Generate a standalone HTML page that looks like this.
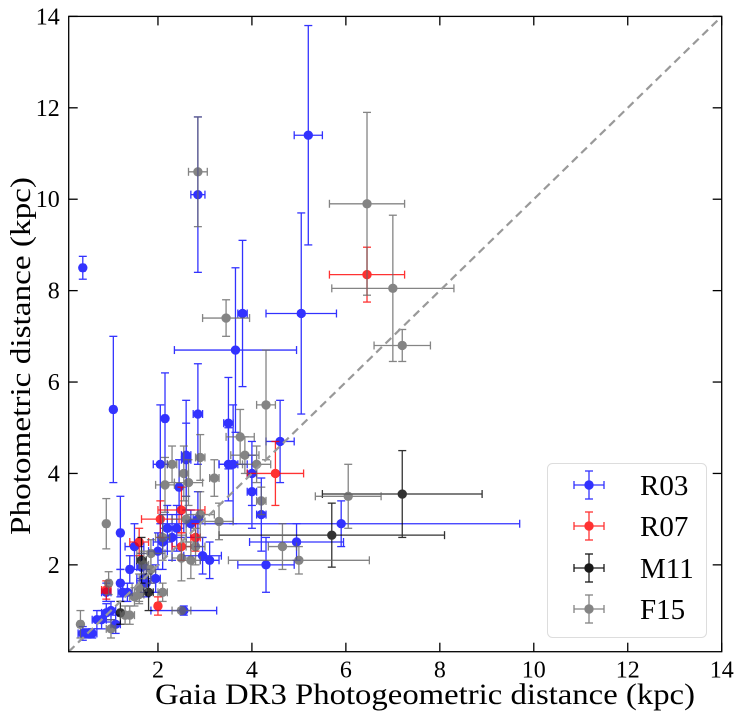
<!DOCTYPE html>
<html><head><meta charset="utf-8"><style>
html,body{margin:0;padding:0;background:#fff;}
svg{display:block;font-family:"Liberation Serif",serif;}
</style></head><body>
<svg id="chart" width="742" height="719" viewBox="0 0 742 719"></svg>
<script>
// R03: x, y, xerr, yerr
const r03X=[0.4,1.05,2.85,5.2,3.8,3.65,5.05,2.15,2.85,3.5,2.05,2.6,2.6,3.5,3.6,4.6,4.0,4.0,4.2,2.45,1.2,5.9,4.95,4.3,2.95,3.1,2.2,2.4,2.3,2.1,2.85,2.7,2.0,1.95,1.7,1.75,1.65,1.4,1.2,1.25,1.35,0.9,1.0,0.9,0.8,0.7,0.4,0.5,0.6,1.1,2.55,1.5];
const r03Y=[8.5,5.4,10.1,11.4,7.5,6.7,7.5,5.2,5.3,5.1,4.2,4.4,4.3,4.2,4.2,4.7,4.0,3.6,3.1,3.7,2.7,2.9,2.5,2.0,2.2,2.1,2.8,2.8,2.6,2.5,3.0,2.9,2.3,1.7,1.7,1.6,1.95,1.9,1.6,1.4,1.4,1.4,1.0,0.95,0.8,0.8,0.5,0.5,0.5,0.7,1.0,2.4];
const r03Xe=[0.05,0.05,0.15,0.3,0.1,1.3,0.75,0.05,0.1,0.1,0.15,0.1,0.1,0.2,0.3,0.3,0.1,0.1,0.1,0.05,0.05,3.8,1.0,0.6,0.4,0.2,0.15,0.15,0.3,0.2,0.1,0.1,0.2,0.1,0.15,0.2,0.1,0.05,0.05,0.1,0.1,0.1,0.1,0.1,0.1,0.1,0.1,0.1,0.1,0.1,0.7,0.2];
const r03Ye=[0.25,1.6,1.7,2.4,1.6,1.8,2.2,1.0,1.1,1.0,1.3,1.2,0.8,0.8,1.3,0.9,0.7,0.8,0.8,0.6,0.8,0.5,0.4,0.6,0.4,0.4,0.5,0.5,0.5,0.6,0.6,0.3,0.4,0.3,0.3,0.3,0.3,0.3,0.3,0.2,0.2,0.2,0.2,0.2,0.2,0.2,0.15,0.1,0.1,0.2,0.1,0.5];
// R07
const r07X=[6.45,4.5,2.5,2.05,2.5,2.8,2.0,0.9,1.6];
const r07Y=[8.35,4.0,3.2,3.0,2.4,2.6,1.1,1.45,2.5];
const r07Xe=[0.8,0.6,0.5,0.4,0.2,0.1,0.05,0.1,0.2];
const r07Ye=[0.6,0.7,0.5,0.4,0.3,0.3,0.2,0.2,0.3];
// M11
const m11X=[7.2,5.7,1.65,1.8,1.2];
const m11Y=[3.55,2.65,2.1,1.4,0.95];
const m11Xe=[1.7,2.4,0.1,0.1,0.05];
const m11Ye=[0.95,0.7,0.5,0.4,0.25];
// F15
const f15X=[2.85,6.45,7.0,7.2,3.45,4.3,3.75,2.9,3.2,3.85,4.1,2.55,2.15,2.3,2.65,4.2,6.05,3.3,4.65,5.0,2.7,2.5,2.9,2.6,2.8,2.1,1.85,1.85,1.5,1.6,1.6,2.1,0.9,0.95,0.35,1.0,1.3,1.4,2.5,1.7];
const f15Y=[10.6,9.9,8.05,6.8,7.4,5.5,4.8,4.35,3.9,4.4,4.2,4.0,3.75,4.2,3.8,3.4,3.5,2.95,2.4,2.1,2.1,2.15,3.1,3.0,2.4,2.6,2.25,1.9,1.3,1.35,1.5,1.4,2.9,1.6,0.7,0.6,0.9,0.9,1.0,2.0];
const f15Xe=[0.2,0.8,1.3,0.6,0.5,0.2,0.3,0.1,0.1,0.3,0.3,0.1,0.2,0.1,0.3,0.1,0.7,0.3,0.3,1.5,0.2,0.2,0.3,0.3,0.2,0.15,0.3,0.1,0.1,0.1,0.15,0.1,0.05,0.05,0.05,0.1,0.1,0.1,0.2,0.1];
const f15Ye=[1.2,2.0,1.6,0.35,0.4,1.2,0.6,0.5,0.4,0.4,0.4,0.6,0.6,0.4,0.5,0.3,0.7,0.4,0.5,0.3,0.4,0.5,0.5,0.5,0.4,0.5,0.3,0.3,0.2,0.2,0.3,0.2,0.55,0.25,0.3,0.2,0.2,0.2,0.05,0.3];
const ticks=[2,4,6,8,10,12,14];
const tickLabels=["2","4","6","8","10","12","14"];

const NS="http://www.w3.org/2000/svg";
const svg=document.getElementById('chart');
const L=68.7,R=721.7,T=16.4,B=651.7,MIN=0.1,MAX=14;
function sx(v){return L+(v-MIN)/(MAX-MIN)*(R-L);}
function sy(v){return B-(v-MIN)/(MAX-MIN)*(B-T);}
function mk(tag,attrs,parent){const e=document.createElementNS(NS,tag);for(const k in attrs)e.setAttribute(k,attrs[k]);(parent||svg).appendChild(e);return e;}

const clipDefs=mk('defs',{});
const cp=mk('clipPath',{id:'clip'},clipDefs);
mk('rect',{x:L,y:T,width:R-L,height:B-T},cp);
const plot=mk('g',{'clip-path':'url(#clip)'});



function series(name,xs,ys,xe,ye,color){
  const g=mk('g',{opacity:0.8},plot);
  
  
  for(let i=0;i<xs.length;i++){
    const pg=mk('g',{stroke:color,'stroke-width':1.3,fill:color},g);
    
    
    const cx=sx(xs[i]),cy=sy(ys[i]);
    const x0=sx(xs[i]-xe[i]),x1=sx(xs[i]+xe[i]),y0=sy(ys[i]-ye[i]),y1=sy(ys[i]+ye[i]);
    mk('line',{x1:x0,y1:cy,x2:x1,y2:cy},pg);
    mk('line',{x1:cx,y1:y0,x2:cx,y2:y1},pg);
    mk('line',{x1:x0,y1:cy-4,x2:x0,y2:cy+4},pg);
    mk('line',{x1:x1,y1:cy-4,x2:x1,y2:cy+4},pg);
    mk('line',{x1:cx-4,y1:y0,x2:cx+4,y2:y0},pg);
    mk('line',{x1:cx-4,y1:y1,x2:cx+4,y2:y1},pg);
    mk('circle',{cx:cx,cy:cy,r:4.7,stroke:'none'},pg);
  }
}
series('r03',r03X,r03Y,r03Xe,r03Ye,'#0000ff');
series('r07',r07X,r07Y,r07Xe,r07Ye,'#ff0000');
series('m11',m11X,m11Y,m11Xe,m11Ye,'#000000');
series('f15',f15X,f15Y,f15Xe,f15Ye,'#666666');

const diag=mk('line',{x1:sx(MIN),y1:sy(MIN),x2:sx(MAX),y2:sy(MAX),stroke:'#999',  'stroke-width':2.2,'stroke-dasharray':'8,5'},plot);



const frame=mk('rect',{x:L,y:T,width:R-L,height:B-T,fill:'none',stroke:'#000','stroke-width':1.3});



ticks.forEach((t,i)=>{
  const x=sx(t),y=sy(t);
  mk('line',{x1:x,y1:B,x2:x,y2:B-9,stroke:'#000','stroke-width':1.3});
  mk('line',{x1:x,y1:T,x2:x,y2:T+9,stroke:'#000','stroke-width':1.3});
  mk('line',{x1:L,y1:y,x2:L+9,y2:y,stroke:'#000','stroke-width':1.3});
  mk('line',{x1:R,y1:y,x2:R-9,y2:y,stroke:'#000','stroke-width':1.3});
  const xl=mk('text',{x:x,y:B+26,'text-anchor':'middle','font-size':24});
  xl.textContent=tickLabels[i];
  
  
  const yl=mk('text',{x:L-9,y:y+8,'text-anchor':'end','font-size':24});
  yl.textContent=tickLabels[i];
  
  
});
</script>
<svg style="position:absolute;left:0;top:0" width="742" height="719">
<text x="155" y="704" textLength="540" lengthAdjust="spacingAndGlyphs" font-size="30" font-family="Liberation Serif, serif">Gaia DR3 Photogeometric distance (kpc)</text>
<text transform="translate(30,535) rotate(-90)" textLength="358" lengthAdjust="spacingAndGlyphs" font-size="28" font-family="Liberation Serif, serif">Photometric distance (kpc)</text>
<g>
<rect x="547.5" y="463.5" width="159" height="174" rx="5" fill="#fff" fill-opacity="0.8" stroke="#ddd" stroke-width="1"/>
<g stroke="#0000ff" fill="#0000ff" opacity="0.8" stroke-width="1.3">
<line x1="574" y1="485" x2="604" y2="485"/><line x1="589" y1="471" x2="589" y2="499"/><line x1="574" y1="481" x2="574" y2="489"/><line x1="604" y1="481" x2="604" y2="489"/><line x1="585" y1="471" x2="593" y2="471"/><line x1="585" y1="499" x2="593" y2="499"/><circle cx="589" cy="485" r="4.7" stroke="none"/></g>
<text x="640" y="495" font-size="29" font-family="Liberation Serif, serif">R03</text>
<g stroke="#ff0000" fill="#ff0000" opacity="0.8" stroke-width="1.3">
<line x1="574" y1="526" x2="604" y2="526"/><line x1="589" y1="512" x2="589" y2="540"/><line x1="574" y1="522" x2="574" y2="530"/><line x1="604" y1="522" x2="604" y2="530"/><line x1="585" y1="512" x2="593" y2="512"/><line x1="585" y1="540" x2="593" y2="540"/><circle cx="589" cy="526" r="4.7" stroke="none"/></g>
<text x="640" y="536" font-size="29" font-family="Liberation Serif, serif">R07</text>
<g stroke="#000" fill="#000" opacity="0.9" stroke-width="1.3">
<line x1="574" y1="568" x2="604" y2="568"/><line x1="589" y1="554" x2="589" y2="582"/><line x1="574" y1="564" x2="574" y2="572"/><line x1="604" y1="564" x2="604" y2="572"/><line x1="585" y1="554" x2="593" y2="554"/><line x1="585" y1="582" x2="593" y2="582"/><circle cx="589" cy="568" r="4.7" stroke="none"/></g>
<text x="640" y="578" font-size="29" font-family="Liberation Serif, serif">M11</text>
<g stroke="#666" fill="#666" opacity="0.8" stroke-width="1.3">
<line x1="574" y1="609" x2="604" y2="609"/><line x1="589" y1="595" x2="589" y2="623"/><line x1="574" y1="605" x2="574" y2="613"/><line x1="604" y1="605" x2="604" y2="613"/><line x1="585" y1="595" x2="593" y2="595"/><line x1="585" y1="623" x2="593" y2="623"/><circle cx="589" cy="609" r="4.7" stroke="none"/></g>
<text x="640" y="619" font-size="29" font-family="Liberation Serif, serif">F15</text>
</g>
</svg>
</body></html>
